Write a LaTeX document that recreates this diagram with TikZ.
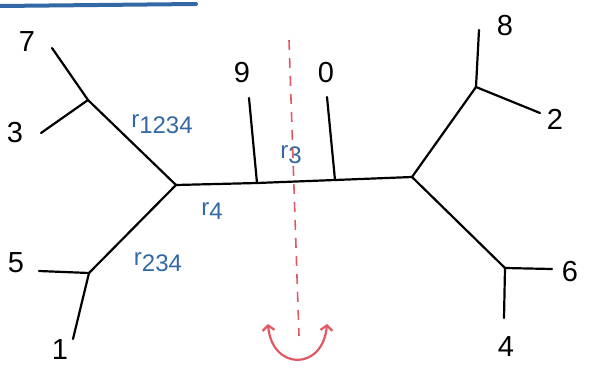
\documentclass[tikz,border=0pt]{standalone}
\usepackage{fontspec}
\setmainfont{Liberation Sans}
\usetikzlibrary{arrows.meta}
\definecolor{penblue}{RGB}{50,105,165}
\definecolor{penred}{RGB}{226,88,98}
\begin{document}
\begin{tikzpicture}[x=1pt,y=-1pt,
  edge/.style={line width=2.2pt, line cap=round, line join=round, black},
  leaflabel/.style={font=\fontsize{29}{29}\selectfont, inner sep=0pt},
  blen/.style={text=penblue, font=\fontsize{24}{24}\selectfont, inner sep=0pt},
  cut/.style={penred, line width=1.6pt, dash pattern=on 10pt off 8pt},
  turn/.style={penred, line width=2.2pt, line cap=round, {Straight Barb[length=5pt,width=12pt]}-{Straight Barb[length=5pt,width=12pt]}}]
\useasboundingbox (0,0) rectangle (589,370);
% top blue stroke
\coordinate (ul1) at (0,6);
\coordinate (ul2) at (196,4);
\draw[penblue, line width=4pt, line cap=round] (ul1) -- (ul2);
% internal vertices
\coordinate (A) at (176,185);
\coordinate (B) at (88,100);
\coordinate (C) at (89,273);
\coordinate (D) at (412,177);
\coordinate (E) at (476,87);
\coordinate (F) at (505,268);
\coordinate (q9) at (257,183);
\coordinate (q0) at (335,180);
% leaf ends
\coordinate (p7) at (52,48);
\coordinate (p3) at (41,133);
\coordinate (p5) at (39,271);
\coordinate (p1) at (73,339);
\coordinate (p8) at (479,30);
\coordinate (p2) at (540,113);
\coordinate (p6) at (552,269);
\coordinate (p4) at (504,318);
\coordinate (t9) at (249,98);
\coordinate (t0) at (327,97);
% edges
\draw[edge] (p7) -- (B);
\draw[edge] (p3) -- (B);
\draw[edge] (B) -- (A);
\draw[edge] (p5) -- (C);
\draw[edge] (p1) -- (C);
\draw[edge] (C) -- (A);
\draw[edge] (A) -- (q9) -- (q0) -- (D);
\draw[edge] (t9) -- (q9);
\draw[edge] (t0) -- (q0);
\draw[edge] (D) -- (E);
\draw[edge] (p8) -- (E);
\draw[edge] (E) -- (p2);
\draw[edge] (D) -- (F);
\draw[edge] (F) -- (p6);
\draw[edge] (F) -- (p4);
% leaf labels
\node[leaflabel] (n7) at (27,42) {7};
\node[leaflabel] (n3) at (15,133) {3};
\node[leaflabel] (n5) at (16,263) {5};
\node[leaflabel] (n1) at (60,350) {1};
\node[leaflabel] (n9) at (242,73) {9};
\node[leaflabel] (n0) at (326,73) {0};
\node[leaflabel] (n8) at (505,26) {8};
\node[leaflabel] (n2) at (555,119) {2};
\node[leaflabel] (n6) at (570,272) {6};
\node[leaflabel] (n4) at (506,347) {4};
% branch lengths
\node[blen] (r1234) at (162,124) {r\raisebox{-6pt}{1234}};
\node[blen] (r4) at (212,211) {r\raisebox{-4pt}{4}};
\node[blen] (r234) at (158,262) {r\raisebox{-6pt}{234}};
\node[blen] (r3) at (291,155) {r\raisebox{-5pt}{3}};
% red cut and rotation
\coordinate (c1) at (289,40);
\coordinate (c2) at (299,336);
\draw[cut] (c1) -- (c2);
\coordinate (h1) at (268,324);
\coordinate (h2) at (327,324);
\draw[turn] (h1) .. controls (272,371) and (323,371) .. (h2);
\end{tikzpicture}
\end{document}
